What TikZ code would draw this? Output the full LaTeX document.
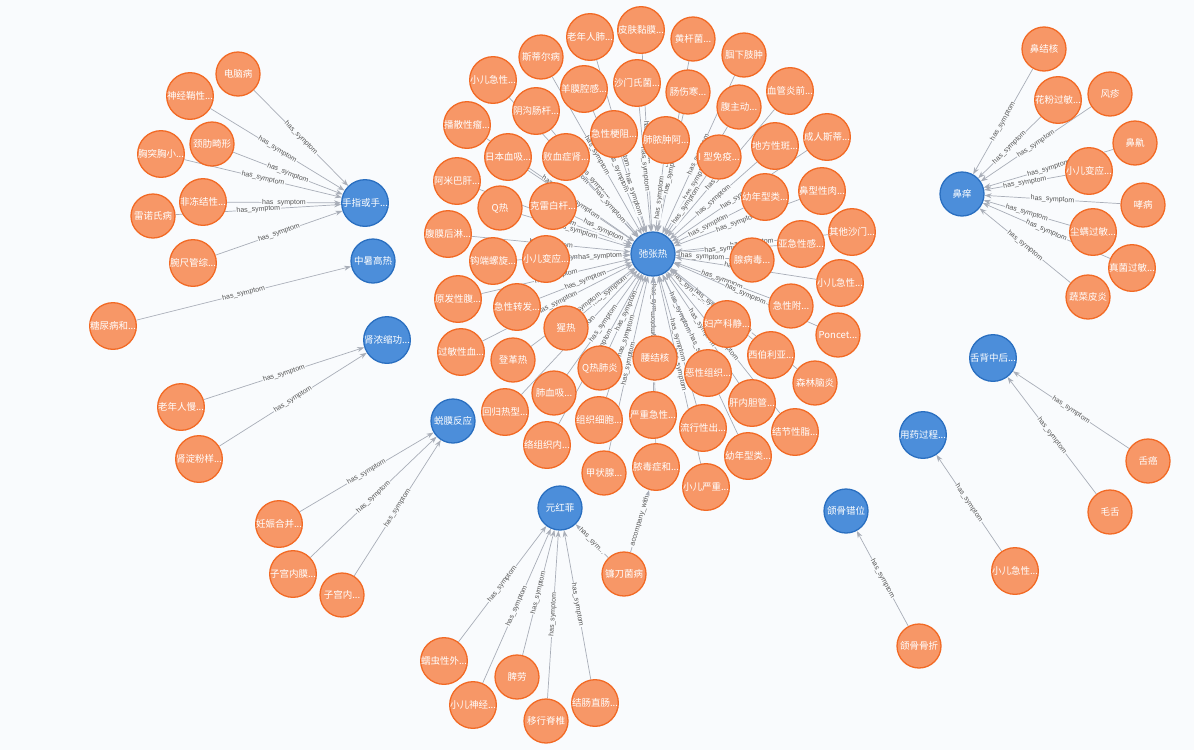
\documentclass[tikz,border=0pt]{standalone}
\usepackage{fontspec}
\setmainfont{Liberation Sans}
\newfontfamily\cjk{Noto Sans CJK SC}
\usetikzlibrary{arrows.meta}
\pgfdeclarelayer{back}
\pgfdeclarelayer{bg}
\pgfsetlayers{back,bg,main}
\definecolor{bgc}{HTML}{F9FBFD}
\definecolor{orfill}{HTML}{F79767}
\definecolor{ordraw}{HTML}{F26A25}
\definecolor{blfill}{HTML}{4C8EDA}
\definecolor{bldraw}{HTML}{2A6FC0}
\definecolor{edgec}{HTML}{A9AEB8}
\definecolor{lblc}{HTML}{555555}
\tikzset{
 dis/.style={circle, minimum size=44pt, inner sep=0pt, fill=orfill, draw=ordraw, line width=1.3pt, text=white, font=\cjk\fontsize{9.5}{9.5}\selectfont},
 sym/.style={dis, fill=blfill, draw=bldraw},
 edge/.style={draw=edgec, line width=0.7pt, -{Stealth[length=7pt,width=5pt]}},
 lbl/.style={midway, sloped, fill=bgc, inner sep=0.8pt, font=\fontsize{7}{7}\selectfont, text=lblc},
}
\begin{document}
\begin{tikzpicture}[x=1pt,y=-1pt]
\useasboundingbox (0,0) rectangle (1194,750);
\begin{pgfonlayer}{back}
\fill[bgc] (0,0) rectangle (1194,750);
\end{pgfonlayer}
% symptom (blue) nodes
\node[sym] (hub) at (653,254) {弛张热};
\node[sym] (s1) at (365,203) {手指或手...};
\node[sym] (s2) at (373,261) {中暑高热};
\node[sym] (s3) at (387,340) {肾浓缩功...};
\node[sym] (s4) at (453,421) {蜕膜反应};
\node[sym] (s5) at (560,508) {元红菲};
\node[sym] (s6) at (962,194) {鼻痒};
\node[sym] (s7) at (993,358) {舌背中后...};
\node[sym] (s8) at (923,435) {用药过程...};
\node[sym] (s9) at (846,511) {颌骨错位};
% left groups
\node[dis] (a1) at (238,74) {电脑病};
\node[dis] (a2) at (190,96) {神经鞘性...};
\node[dis] (a3) at (212,144) {颈肋畸形};
\node[dis] (a4) at (161,154) {胸突胸小...};
\node[dis] (a5) at (203,202) {非冻结性...};
\node[dis] (a6) at (153,216) {雷诺氏病};
\node[dis] (a7) at (193,263) {腕尺管综...};
\node[dis] (b1) at (113,326) {糖尿病和...};
\node[dis] (c1) at (181,407) {老年人慢...};
\node[dis] (c2) at (199,459) {肾淀粉样...};
\node[dis] (d1) at (279,524) {妊娠合并...};
\node[dis] (d2) at (293,574) {子宫内膜...};
\node[dis] (d3) at (342,595) {子宫内...};
% bottom group
\node[dis] (e1) at (444,661) {蠕虫性外...};
\node[dis] (e2) at (473,705) {小儿神经...};
\node[dis] (e3) at (517,677) {脾劳};
\node[dis] (e4) at (546,721) {移行脊椎};
\node[dis] (e5) at (595,703) {结肠直肠...};
\node[dis] (e6) at (624,574) {镰刀菌病};
% right group
\node[dis] (f1) at (1044,49) {鼻结核};
\node[dis] (f2) at (1058,100) {花粉过敏...};
\node[dis] (f3) at (1110,94) {风疹};
\node[dis] (f4) at (1135,143) {鼻鼽};
\node[dis] (f5) at (1089,171) {小儿变应...};
\node[dis] (f6) at (1143,205) {哮病};
\node[dis] (f7) at (1093,232) {尘螨过敏...};
\node[dis] (f8) at (1132,268) {真菌过敏...};
\node[dis] (f9) at (1088,297) {蔬菜皮炎};
\node[dis] (g1) at (1148,461) {舌癌};
\node[dis] (g2) at (1110,512) {毛舌};
\node[dis] (h1) at (1015,571) {小儿急性...};
\node[dis] (i1) at (919,646) {颌骨骨折};
% central cluster
\node[dis] (k1) at (590,37) {老年人肺...};
\node[dis] (k2) at (641,30) {皮肤黏膜...};
\node[dis] (k3) at (693,39) {黄杆菌...};
\node[dis] (k4) at (744,55) {腘下肢肿};
\node[dis] (k5) at (541,57) {斯蒂尔病};
\node[dis] (k6) at (493,80) {小儿急性...};
\node[dis] (k7) at (584,89) {羊膜腔感...};
\node[dis] (k8) at (637,83) {沙门氏菌...};
\node[dis] (k9) at (688,92) {肠伤寒...};
\node[dis] (k10) at (790,91) {血管炎前...};
\node[dis] (k11) at (739,107) {腹主动...};
\node[dis] (k12) at (536,111) {阴沟肠杆...};
\node[dis] (k13) at (467,125) {播散性瘤...};
\node[dis] (k14) at (614,134) {急性梗阻...};
\node[dis] (k15) at (666,140) {肺脓肿阿...};
\node[dis] (k16) at (827,137) {成人斯蒂...};
\node[dis] (k17) at (508,157) {日本血吸...};
\node[dis] (k18) at (566,157) {败血症肾...};
\node[dis] (k19) at (775,146) {地方性斑...};
\node[dis] (k20) at (719,157) {I 型免疫...};
\node[dis] (k21) at (457,181) {阿米巴肝...};
\node[dis] (k22) at (500,208) {Q热};
\node[dis] (k23) at (553,206) {克雷白杆...};
\node[dis] (k24) at (765,197) {幼年型类...};
\node[dis] (k25) at (822,191) {鼻型性肉...};
\node[dis] (k26) at (448,234) {腹膜后淋...};
\node[dis] (k27) at (852,232) {其他沙门...};
\node[dis] (k28) at (493,261) {钩端螺旋...};
\node[dis] (k29) at (546,259) {小儿变应...};
\node[dis] (k30) at (801,244) {亚急性感...};
\node[dis] (k31) at (752,260) {腺病毒...};
\node[dis] (k32) at (458,299) {原发性腹...};
\node[dis] (k33) at (517,307) {急性转发...};
\node[dis] (k34) at (840,283) {小儿急性...};
\node[dis] (k35) at (791,306) {急性附...};
\node[dis] (k36) at (566,328) {猩热};
\node[dis] (k37) at (727,324) {妇产科静...};
\node[dis] (k38) at (838,335) {Poncet...};
\node[dis] (k39) at (461,352) {过敏性血...};
\node[dis] (k40) at (513,360) {登革热};
\node[dis] (k41) at (600,368) {Q热肺炎};
\node[dis] (k42) at (655,358) {腰结核};
\node[dis] (k43) at (708,373) {恶性组织...};
\node[dis] (k44) at (771,355) {西伯利亚...};
\node[dis] (k45) at (815,383) {森林脑炎};
\node[dis] (k46) at (554,393) {肺血吸...};
\node[dis] (k47) at (505,412) {回归热型...};
\node[dis] (k48) at (599,420) {组织细胞...};
\node[dis] (k49) at (653,415) {严重急性...};
\node[dis] (k50) at (703,428) {流行性出...};
\node[dis] (k51) at (752,403) {肝内胆管...};
\node[dis] (k52) at (795,432) {结节性脂...};
\node[dis] (k53) at (547,445) {络组织内...};
\node[dis] (k54) at (604,473) {甲状腺...};
\node[dis] (k55) at (656,467) {脓毒症和...};
\node[dis] (k56) at (748,456) {幼年型类...};
\node[dis] (k57) at (706,487) {小儿严重...};
\begin{pgfonlayer}{bg}
\foreach \s in {a1,a2,a3,a4,a5,a6,a7} \draw[edge] (\s) -- node[lbl]{has\_symptom} (s1);
\draw[edge] (b1) -- node[lbl]{has\_symptom} (s2);
\foreach \s in {c1,c2} \draw[edge] (\s) -- node[lbl]{has\_symptom} (s3);
\foreach \s in {d1,d2,d3} \draw[edge] (\s) -- node[lbl]{has\_symptom} (s4);
\foreach \s in {e1,e2,e3,e4,e5} \draw[edge] (\s) -- node[lbl]{has\_symptom} (s5);
\draw[edge] (e6) -- node[lbl]{has\_sym...} (s5);
\draw[edge] (e6) -- node[lbl]{accompany\_with} (k55);
\foreach \s in {f1,f2,f3,f4,f5,f6,f7,f8,f9} \draw[edge] (\s) -- node[lbl]{has\_symptom} (s6);
\foreach \s in {g1,g2} \draw[edge] (\s) -- node[lbl]{has\_symptom} (s7);
\draw[edge] (h1) -- node[lbl]{has\_symptom} (s8);
\draw[edge] (i1) -- node[lbl]{has\_symptom} (s9);
\foreach \i in {1,...,57} \draw[edge] (k\i) -- node[lbl]{has\_symptom} (hub);
\end{pgfonlayer}
\end{tikzpicture}
\end{document}
